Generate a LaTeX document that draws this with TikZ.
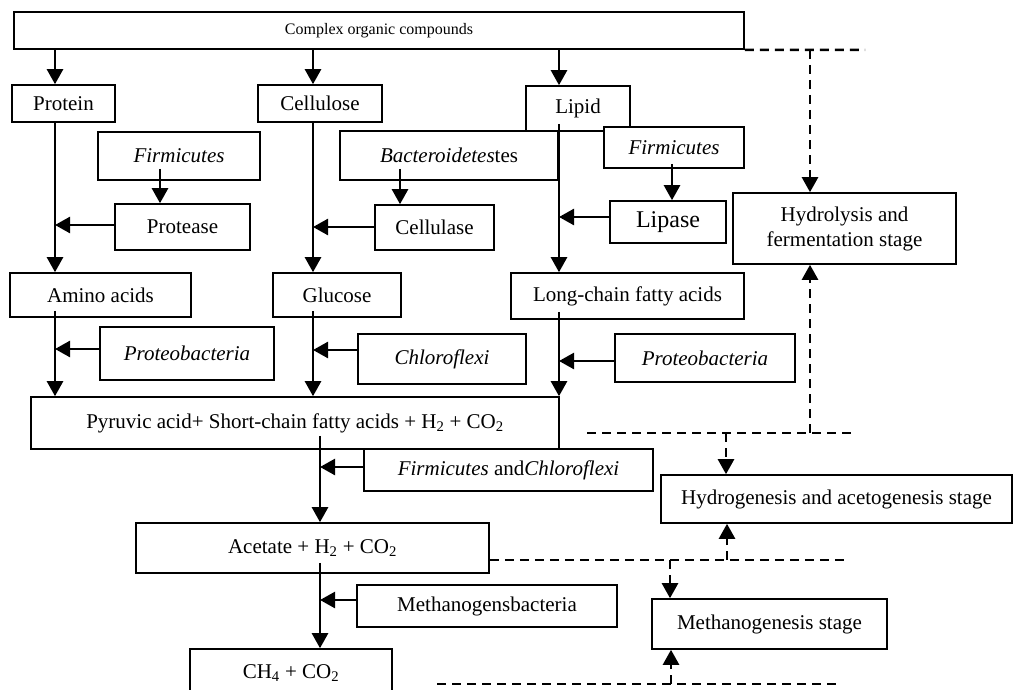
\documentclass[tikz,border=0pt]{standalone}
\usepackage{fontspec}
\setmainfont{Liberation Serif}
\usetikzlibrary{arrows.meta,calc}

\tikzset{
  box/.style={draw, fill=white, line width=1.6pt, inner sep=0pt, align=center},
  arr/.style={line width=2.5pt, -{Triangle[width=16pt,length=15pt]}},
  sep/.style={line width=2.5pt, dash pattern=on 9pt off 6pt},
  sepArr/.style={sep, -{Triangle[width=16pt,length=15pt]}}
}

\begin{document}
\begin{tikzpicture}[x=1pt,y=-1pt,font=\fontsize{21}{25}\selectfont]
\useasboundingbox (0,0) rectangle (1014,690);
%\draw[] (0,0) grid (1014,690);
% columns of the flow
\coordinate (colA) at (55,0);
\coordinate (colB) at (313,0);
\coordinate (colC) at (559,0);
\coordinate (colD) at (320,0);
\coordinate (colE) at (160,0);
\coordinate (colF) at (400,0);
\coordinate (colG) at (672,0);
% where the side arrows meet the columns
\coordinate (jA1) at (55,225);
\coordinate (jB1) at (313,227);
\coordinate (jC1) at (559,217);
\coordinate (jA2) at (55,349);
\coordinate (jB2) at (313,350);
\coordinate (jC2) at (559,361);
\coordinate (jD1) at (320,467);
\coordinate (jD2) at (320,600);
% stage separators
\coordinate (stA) at (810,50);
\coordinate (sepA) at (865,50);
\coordinate (sepB1) at (587,433);
\coordinate (sepB2) at (851,433);
\coordinate (stB) at (810,433);
\coordinate (stC) at (726,433);
\coordinate (sepC) at (847,560);
\coordinate (stD) at (727,560);
\coordinate (stE) at (670,560);
\coordinate (sepD1) at (437,684);
\coordinate (sepD2) at (838,684);
\coordinate (stF) at (671,684);

\node[box, minimum width=730, minimum height=37, font=\fontsize{16}{19}\selectfont] (top) at (379,30.5) {Complex organic compounds};
\node[box, minimum width=103, minimum height=37] (protein) at (63.5,103.5) {Protein};
\node[box, minimum width=124, minimum height=37] (cellulose) at (320,103.5) {Cellulose};
\node[box, minimum width=104, minimum height=45] (lipid) at (578,108.5) {Lipid};
\node[box, minimum width=162, minimum height=48] (firmA) at (179,156) {\textit{Firmicutes}};
\node[box, minimum width=218, minimum height=49] (bactero) at (449,155.5) {\textit{Bacteroidetes}tes};
\node[box, minimum width=140, minimum height=41] (firmB) at (674,147.5) {\textit{Firmicutes}};
\node[box, minimum width=135, minimum height=46] (protease) at (182.5,227) {Protease};
\node[box, minimum width=119, minimum height=45] (cellulase) at (434.5,227.5) {Cellulase};
\node[box, minimum width=116, minimum height=42, font=\fontsize{24}{28}\selectfont] (lipase) at (668,222) {Lipase};
\node[box, minimum width=223, minimum height=71] (hydro) at (844.5,228.5) {Hydrolysis and\\fermentation stage};
\node[box, minimum width=181, minimum height=44] (amino) at (100.5,295) {Amino acids};
\node[box, minimum width=128, minimum height=44] (glucose) at (337,295) {Glucose};
\node[box, minimum width=233, minimum height=46] (longchain) at (627.5,296) {Long-chain fatty acids};
\node[box, minimum width=174, minimum height=53] (proteoA) at (187,353.5) {\textit{Proteobacteria}};
\node[box, minimum width=168, minimum height=50] (chloro) at (442,359) {\textit{Chloroflexi}};
\node[box, minimum width=180, minimum height=48] (proteoB) at (705,358) {\textit{Proteobacteria}};
\node[box, minimum width=528, minimum height=52] (pyruvic) at (295,423) {Pyruvic acid+ Short-chain fatty acids + H\textsubscript{2} + CO\textsubscript{2}};
\node[box, minimum width=289, minimum height=42] (firmchlor) at (508.5,470) {\textit{Firmicutes} and\textit{Chloroflexi}};
\node[box, minimum width=351, minimum height=48] (hydrogen) at (836.5,499) {Hydrogenesis and acetogenesis stage};
\node[box, minimum width=353, minimum height=50] (acetate) at (312.5,548) {Acetate + H\textsubscript{2} + CO\textsubscript{2}};
\node[box, minimum width=260, minimum height=42] (methanogens) at (487,606) {Methanogensbacteria};
\node[box, minimum width=235, minimum height=50] (methano) at (769.5,624) {Methanogenesis stage};
\node[box, minimum width=202, minimum height=48] (ch4) at (291,673) {CH\textsubscript{4} + CO\textsubscript{2}};

% main flow
\draw[arr] (top.south -| colA) -- (protein.north -| colA);
\draw[arr] (top.south -| colB) -- (cellulose.north -| colB);
\draw[arr] (top.south -| colC) -- (lipid.north -| colC);
\draw[arr] (protein.south -| colA) -- (amino.north -| colA);
\draw[arr] (cellulose.south -| colB) -- (glucose.north -| colB);
\draw[arr] ($(lipid.south -| colC)+(0,-8)$) -- (longchain.north -| colC);
\draw[arr] ($(amino.south -| colA)+(0,-7)$) -- (pyruvic.north -| colA);
\draw[arr] ($(glucose.south -| colB)+(0,-7)$) -- (pyruvic.north -| colB);
\draw[arr] ($(longchain.south -| colC)+(0,-8)$) -- (pyruvic.north -| colC);
\draw[arr] ($(pyruvic.south -| colD)+(0,-14)$) -- (acetate.north -| colD);
\draw[arr] ($(acetate.south -| colD)+(0,-11)$) -- (ch4.north -| colD);

% enzymes and bacteria
\draw[arr] ($(firmA.south -| colE)+(0,-12)$) -- (protease.north -| colE);
\draw[arr] ($(bactero.south -| colF)+(0,-12)$) -- (cellulase.north -| colF);
\draw[arr] ($(firmB.south -| colG)+(0,-5)$) -- (lipase.north -| colG);
\draw[arr] (protease.west |- jA1) -- (jA1);
\draw[arr] (cellulase.west |- jB1) -- (jB1);
\draw[arr] (lipase.west |- jC1) -- (jC1);
\draw[arr] (proteoA.west |- jA2) -- (jA2);
\draw[arr] (chloro.west |- jB2) -- (jB2);
\draw[arr] (proteoB.west |- jC2) -- (jC2);
\draw[arr] (firmchlor.west |- jD1) -- (jD1);
\draw[arr] (methanogens.west |- jD2) -- (jD2);

% stages
\draw[sep] (top.south east) -- (sepA);
\draw[sepArr] (stA) -- (hydro.north -| stA);
\draw[sep] (sepB1) -- (sepB2);
\draw[sepArr] (stB) -- (hydro.south -| stB);
\draw[sepArr] (stC) -- (hydrogen.north -| stC);
\draw[sep] (acetate.east |- sepC) -- (sepC);
\draw[sepArr] (stD) -- (hydrogen.south -| stD);
\draw[sepArr] (stE) -- (methano.north -| stE);
\draw[sep] (sepD1) -- (sepD2);
\draw[sepArr] (stF) -- (methano.south -| stF);
\end{tikzpicture}
\end{document}
